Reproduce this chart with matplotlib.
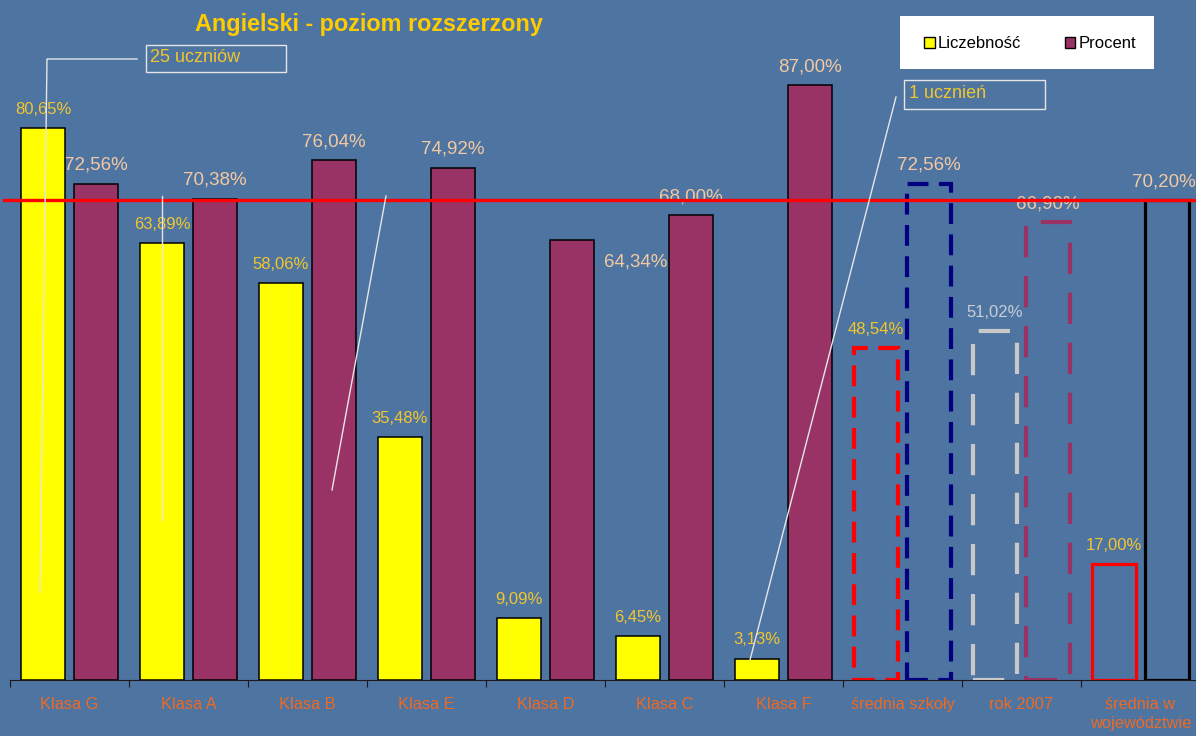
import matplotlib
matplotlib.use("Agg")
import matplotlib.pyplot as plt
from matplotlib.patches import Rectangle, Patch
from matplotlib.transforms import Affine2D

plt.rcParams['font.family'] = ['Liberation Sans', 'DejaVu Sans']

# ── Data ─────────────────────────────────────────────────────
categories = ["Klasa G", "Klasa A", "Klasa B", "Klasa E", "Klasa D", "Klasa C",
              "Klasa F", "średnia szkoły", "rok 2007", "średnia w\nwojewództwie"]
liczebnosc = [80.65, 63.89, 58.06, 35.48, 9.09, 6.45, 3.13, 48.54, 51.02, 17.00]
procent    = [72.56, 70.38, 76.04, 74.92, 64.34, 68.00, 87.00, 72.56, 66.90, 70.20]
srednia_woj = 70.20

BG      = "#4E74A1"
YELLOW  = "#FFFF00"
PURPLE  = "#993366"
GOLD    = "#F2C62E"
PEACH   = "#F3C9A2"
ORANGE  = "#EE6A22"

# styles for the last three groups (summary bars without fill)
liczb_edge = {7: ("#FF0000", "dash"), 8: ("#C8C8C8", "longdash"), 9: ("#FF0000", "solid")}
proc_edge  = {7: ("#000080", "dash"), 8: ("#993366", "longdash"), 9: ("#000000", "solid")}
dash_styles = {"dash": (0, (5, 2.5)), "longdash": (0, (7.5, 4.5)), "solid": "solid"}


def fmt(v):
    return f"{v:.2f}%".replace(".", ",")


fig = plt.figure(figsize=(11.96, 7.36), dpi=100, facecolor=BG)
ax = fig.add_axes([10 / 1196, 56 / 736, 1190 / 1196, 680 / 736])
ax.set_facecolor(BG)
ax.set_xlim(0, len(categories))
ax.set_ylim(0, 680 / 6.84)

width = 0.37
offset = 0.223

for i, (lv, pv) in enumerate(zip(liczebnosc, procent)):
    xl = i + 0.5 - offset
    xp = i + 0.5 + offset
    if i in liczb_edge:
        col, ls = liczb_edge[i]
        lw = 3 if ls != "solid" else 2.3
        ax.bar(xl, lv, width, facecolor="none", edgecolor=col, linewidth=lw,
               linestyle=dash_styles[ls], zorder=3)
    else:
        ax.bar(xl, lv, width, color=YELLOW, edgecolor="black", linewidth=1.1, zorder=3)
    if i in proc_edge:
        col, ls = proc_edge[i]
        lw = 3 if ls != "solid" else 2.3
        ax.bar(xp, pv, width, facecolor="none", edgecolor=col, linewidth=lw,
               linestyle=dash_styles[ls], zorder=3)
    else:
        ax.bar(xp, pv, width, color=PURPLE, edgecolor="black", linewidth=1.1, zorder=3)

    # value labels
    lcol = "#C9CDD6" if i == 8 else GOLD
    ax.annotate(fmt(lv), (xl, lv), xytext=(0, 8), textcoords="offset points",
                ha="center", va="bottom", fontsize=12, color=lcol, zorder=5)
    if i == 4:
        # Klasa D label sits right of its bar
        ax.annotate(fmt(pv), (xp, pv), xytext=(46, -16), textcoords="offset points",
                    ha="center", va="center", fontsize=13.5, color=PEACH, zorder=5)
    else:
        dx = -2 if i == len(procent) - 1 else 0
        ax.annotate(fmt(pv), (xp, pv), xytext=(dx, 7), textcoords="offset points",
                    ha="center", va="bottom", fontsize=13.5, color=PEACH, zorder=2)

# red reference line (average in voivodeship)
ax.plot([-0.05, len(categories)], [srednia_woj, srednia_woj], color="#FF0000",
        linewidth=2.4, clip_on=False, zorder=4)

# axes decoration
for s in ["top", "right", "left"]:
    ax.spines[s].set_visible(False)
ax.spines["bottom"].set_color("#1a1a1a")
ax.set_yticks([])
ax.set_xticks(range(len(categories) + 1))
ax.set_xticklabels([])
ax.tick_params(axis="x", which="major", length=5, color="#1a1a1a", direction="out")
ax.set_xticks([i + 0.5 for i in range(len(categories))], minor=True)
ax.set_xticklabels(categories, minor=True, color=ORANGE, fontsize=11.8, va="top",
                   linespacing=1.4)
ax.tick_params(axis="x", which="minor", length=0, pad=12)

# pixel-based transform for callouts and legend box (origin top-left)
px = Affine2D().scale(1 / 1196, -1 / 736).translate(0, 1) + fig.transFigure

fig.text(369, 24, "Angielski - poziom rozszerzony", transform=px, ha="center",
         va="center", fontsize=16.8, fontweight="bold", color="#FFCC00")

# callouts
line_kw = dict(color="#E6E6E6", linewidth=1, transform=px, zorder=6)
fig.add_artist(Rectangle((146, 72), 140, -27, fill=False, edgecolor="#E6E6E6",
                         linewidth=1, transform=px))
fig.text(150, 58, "25 uczniów", transform=px, ha="left", va="center",
         fontsize=13, color=GOLD)
fig.add_artist(plt.Line2D([137, 47, 40], [59, 59, 592], **line_kw))
fig.add_artist(plt.Line2D([162, 162], [196, 520], **line_kw))
fig.add_artist(plt.Line2D([386, 332], [196, 490], **line_kw))
fig.add_artist(Rectangle((904, 109), 141, -29, fill=False, edgecolor="#E6E6E6",
                         linewidth=1, transform=px))
fig.text(909, 93, "1 ucznień", transform=px, ha="left", va="center",
         fontsize=13, color=GOLD)
fig.add_artist(plt.Line2D([896, 750], [97, 660], **line_kw))

# legend
fig.add_artist(Rectangle((900, 69), 254, -53, facecolor="white", edgecolor="none",
                         transform=px, zorder=7))
handles = [Patch(facecolor=YELLOW, edgecolor="black", label="Liczebność"),
           Patch(facecolor=PURPLE, edgecolor="black", label="Procent")]
leg = fig.legend(handles=handles, loc="center", bbox_to_anchor=(1030, 44),
                 bbox_transform=px, ncol=2, frameon=False, fontsize=12,
                 handlelength=0.65, handleheight=0.65, handletextpad=0.2,
                 columnspacing=2.6)
leg.set_zorder(8)

fig.savefig("out.png", dpi=100, facecolor=BG)
